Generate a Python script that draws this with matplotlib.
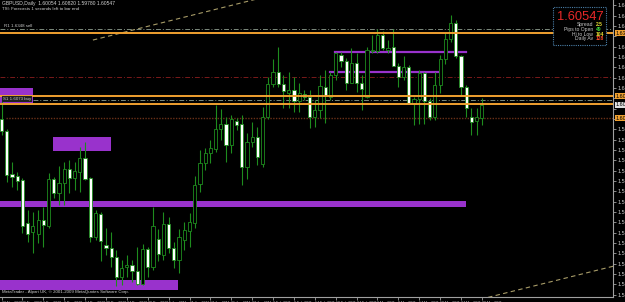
import numpy as np
import matplotlib

matplotlib.use("Agg")
import matplotlib.pyplot as plt
import matplotlib.transforms as mtransforms
from matplotlib.patches import Rectangle

plt.rcParams["font.family"] = ["Liberation Sans", "DejaVu Sans"]

W, H = 625, 302

# GBPUSD daily bars, 22 Nov 2010 .. 30 Mar 2011 (weekdays)
opens = [1.5999, 1.5953, 1.5787, 1.5779, 1.5763, 1.5597, 1.5562, 1.5554, 1.5609, 1.5585,
         1.5767, 1.5713, 1.5752, 1.5806, 1.5771, 1.5794, 1.5849, 1.5771, 1.5543, 1.5632,
         1.5512, 1.5500, 1.5465, 1.5388, 1.5427, 1.5434, 1.5411, 1.5361, 1.5496, 1.5427,
         1.5535, 1.5473, 1.5593, 1.5500, 1.5454, 1.5531, 1.5566, 1.5597, 1.5748, 1.5829,
         1.5868, 1.5883, 1.5961, 1.5980, 1.5899, 1.5992, 1.5980, 1.5814, 1.5910, 1.5930,
         1.5825, 1.6007, 1.6135, 1.6181, 1.6135, 1.6100, 1.6112, 1.6069, 1.6096, 1.6085,
         1.6007, 1.6034, 1.6123, 1.6085, 1.6170, 1.6247, 1.6224, 1.6139, 1.6216, 1.6139,
         1.6085, 1.6263, 1.6263, 1.6325, 1.6267, 1.6278, 1.6205, 1.6162, 1.6201, 1.6061,
         1.6077, 1.6177, 1.6069, 1.6007, 1.6131, 1.6232, 1.6309, 1.6371, 1.6243, 1.6123,
         1.6007, 1.5992, 1.6005]
highs = [1.6073, 1.5961, 1.5833, 1.5794, 1.5771, 1.5647, 1.5640, 1.5647, 1.5659, 1.5790,
         1.5775, 1.5818, 1.5833, 1.5841, 1.5833, 1.5891, 1.5910, 1.5775, 1.5647, 1.5640,
         1.5578, 1.5562, 1.5493, 1.5454, 1.5473, 1.5454, 1.5504, 1.5516, 1.5504, 1.5659,
         1.5574, 1.5640, 1.5620, 1.5523, 1.5574, 1.5601, 1.5636, 1.5779, 1.5880, 1.5887,
         1.5918, 1.6054, 1.6038, 1.6007, 1.6015, 1.6003, 1.6015, 1.5945, 1.5988, 1.5969,
         1.6046, 1.6162, 1.6232, 1.6278, 1.6170, 1.6181, 1.6162, 1.6139, 1.6112, 1.6112,
         1.6073, 1.6170, 1.6189, 1.6181, 1.6259, 1.6259, 1.6236, 1.6274, 1.6255, 1.6170,
         1.6278, 1.6325, 1.6348, 1.6340, 1.6305, 1.6348, 1.6216, 1.6243, 1.6208, 1.6085,
         1.6189, 1.6181, 1.6081, 1.6181, 1.6247, 1.6332, 1.6402, 1.6383, 1.6247, 1.6131,
         1.6042, 1.6042, 1.6082]
lows = [1.5938, 1.5756, 1.5736, 1.5725, 1.5558, 1.5523, 1.5481, 1.5520, 1.5504, 1.5578,
        1.5694, 1.5667, 1.5667, 1.5713, 1.5725, 1.5717, 1.5763, 1.5523, 1.5531, 1.5450,
        1.5473, 1.5427, 1.5353, 1.5357, 1.5388, 1.5369, 1.5357, 1.5357, 1.5388, 1.5415,
        1.5450, 1.5454, 1.5481, 1.5423, 1.5403, 1.5493, 1.5504, 1.5578, 1.5717, 1.5802,
        1.5829, 1.5872, 1.5918, 1.5833, 1.5868, 1.5957, 1.5744, 1.5767, 1.5891, 1.5821,
        1.5814, 1.5999, 1.6123, 1.6123, 1.6042, 1.6042, 1.6027, 1.6027, 1.6073, 1.5965,
        1.5969, 1.6003, 1.5984, 1.6073, 1.6150, 1.6201, 1.6112, 1.6139, 1.6104, 1.6034,
        1.6081, 1.6255, 1.6255, 1.6267, 1.6255, 1.6205, 1.6123, 1.6150, 1.6061, 1.5976,
        1.5980, 1.5980, 1.5996, 1.5996, 1.6100, 1.6212, 1.6297, 1.6236, 1.6092, 1.6007,
        1.5938, 1.5938, 1.5978]
closes = [1.5953, 1.5783, 1.5775, 1.5760, 1.5585, 1.5554, 1.5585, 1.5609, 1.5589, 1.5767,
          1.5713, 1.5752, 1.5806, 1.5771, 1.5798, 1.5849, 1.5767, 1.5543, 1.5636, 1.5527,
          1.5500, 1.5465, 1.5388, 1.5423, 1.5434, 1.5411, 1.5361, 1.5496, 1.5427, 1.5585,
          1.5477, 1.5593, 1.5500, 1.5454, 1.5543, 1.5570, 1.5601, 1.5744, 1.5829, 1.5868,
          1.5887, 1.5961, 1.5980, 1.5899, 1.5999, 1.5976, 1.5814, 1.5910, 1.5930, 1.5852,
          1.6007, 1.6135, 1.6181, 1.6135, 1.6108, 1.6112, 1.6069, 1.6100, 1.6085, 1.6007,
          1.6034, 1.6127, 1.6089, 1.6170, 1.6255, 1.6224, 1.6139, 1.6216, 1.6139, 1.6116,
          1.6267, 1.6267, 1.6325, 1.6274, 1.6274, 1.6205, 1.6162, 1.6201, 1.6061, 1.6077,
          1.6177, 1.6069, 1.6007, 1.6131, 1.6232, 1.6309, 1.6371, 1.6243, 1.6123, 1.6042,
          1.5988, 1.6007, 1.60547]

date_labels = ["22 Nov 2010", "26 Nov 2010", "2 Dec 2010", "8 Dec 2010", "14 Dec 2010",
               "20 Dec 2010", "24 Dec 2010", "30 Dec 2010", "5 Jan 2011", "11 Jan 2011",
               "17 Jan 2011", "21 Jan 2011", "27 Jan 2011", "2 Feb 2011", "8 Feb 2011",
               "14 Feb 2011", "18 Feb 2011", "24 Feb 2011", "2 Mar 2011", "8 Mar 2011",
               "14 Mar 2011", "18 Mar 2011", "24 Mar 2011", "30 Mar 2011"]
price_ticks = [round(1.6440 - 0.004 * k, 4) for k in range(29)]

# drawn objects: levels and zones
orange_levels = [1.6332, 1.6087, 1.6056]
orange_tags = [1.6332, 1.6087, 1.6003]
gray_dashdot = [(-0.3, 1.6348), (6.0, 1.6073)]   # (start bar, price)
red_dashdot = 1.6162
brown_dotted = 1.6003
# (bar from, bar to, price low, price high)
purple_zones = [(-0.3, 6.0, 1.6058, 1.6119),
                (9.9, 21.0, 1.5876, 1.5930),
                (-0.3, 89.0, 1.5659, 1.5682),
                (-0.3, 33.8, 1.5338, 1.5376)]
# (bar from, bar to, price)
purple_lines = [(63.9, 89.0, 1.6259), (62.9, 83.6, 1.6181)]
channel_top = [(17.5, 1.6305), (60.0, 1.6520)]
channel_bottom = [(80.0, 1.5243), (118.0, 1.5434)]

bid = 1.60547
info_labels = ["Spread", "Pips to Open", "Hi to Low", "Daily Av"]
info_values = ["2.5", "49", "104", "128"]
info_colors = ["#e6dc32", "#3ad23a", "#e6dc32", "#ff4a2a"]

GREEN = "#1e8c1e"
ORANGE = "#f0a030"
PURPLE = "#9932cc"

fig = plt.figure(figsize=(W / 100, H / 100), dpi=100, facecolor="black")
ax = fig.add_axes([0, 5 / H, 613 / W, 297 / H], facecolor="black")

x = np.arange(len(opens))
o = np.array(opens)
c = np.array(closes)
ax.vlines(x, lows, highs, color=GREEN, lw=0.8, zorder=3)
bottoms = np.minimum(o, c)
heights = np.maximum(np.abs(c - o), 0.00008)
body_colors = ["white" if cc < oo else "black" for oo, cc in zip(opens, closes)]
ax.bar(x, heights, bottom=bottoms, width=0.6, color=body_colors,
       edgecolor=GREEN, linewidth=0.6, zorder=4)

for x0, x1, p0, p1 in purple_zones:
    ax.add_patch(Rectangle((x0, p0), x1 - x0, p1 - p0, color=PURPLE, lw=0, zorder=2))
for x0, x1, p in purple_lines:
    ax.plot([x0, x1], [p, p], color=PURPLE, lw=1.6, zorder=2)

for p in orange_levels:
    ax.axhline(p, color=ORANGE, lw=1.4, zorder=5)
for x0, p in gray_dashdot:
    ax.plot([x0, 118], [p, p], color="#7c8a7c", lw=0.7, ls=(0, (5, 2, 1, 2)), zorder=1)
ax.axhline(red_dashdot, color="#7a1a1a", lw=0.7, ls=(0, (5, 2, 1, 2)), zorder=1)
ax.plot([0.8, 118], [brown_dotted, brown_dotted], color="#6a3018", lw=1.0,
        ls=(0, (1, 1)), zorder=1)

for line in (channel_top, channel_bottom):
    ax.plot([line[0][0], line[1][0]], [line[0][1], line[1][1]], color="#a89c68",
            lw=0.8, ls=(0, (4, 3)), zorder=1)

ax.set_xlim(-0.29, 117.1)
ax.set_ylim(1.6460 - 297 * 0.000387, 1.6460)

for side in ("top", "left"):
    ax.spines[side].set_visible(False)
for side in ("right", "bottom"):
    ax.spines[side].set_color("#a0a0a0")
    ax.spines[side].set_linewidth(0.8)

# the level tags cover the scale labels they sit on
tags = orange_tags + [bid]
shown = [p if all(abs(p - t) > 0.0016 for t in tags) else None for p in price_ticks]
ax.yaxis.tick_right()
ax.set_yticks(price_ticks)
ax.set_yticklabels([f"{p:.4f}" if p is not None else "" for p in shown])
ax.set_xticks(np.arange(0, len(opens), 4))
ax.set_xticklabels(date_labels, ha="left")
ax.tick_params(colors="#a0a0a0", labelcolor="#c8c8c8", labelsize=4, length=2,
               width=0.6, pad=1)
ax.tick_params(axis="x", labelsize=2.5)

tr = mtransforms.blended_transform_factory(ax.transAxes, ax.transData)
for p in orange_tags:
    ax.text(1.004, p, f"{p:.5f}", transform=tr, fontsize=4, color="black",
            va="center", ha="left", clip_on=False,
            bbox=dict(boxstyle="square,pad=0.1", fc=ORANGE, ec="none"))
ax.text(1.004, bid, f"{bid:.5f}", transform=tr, fontsize=4, color="black",
        va="center", ha="left", clip_on=False,
        bbox=dict(boxstyle="square,pad=0.1", fc="#e0e0e0", ec="none"))

# labels on the left ends of the lines
ax.text(0.5, 1.6352, "R1 1.6348 sell", fontsize=3.2, color="#c8c8c8", va="bottom")
ax.text(0.2, 1.6076, "S1 1.6073 buy", fontsize=3.2, color="#c8c8c8", va="center",
        bbox=dict(boxstyle="square,pad=0.2", fc="#202020", ec="none"), zorder=6)

# header and copyright
fig.text(2 / W, 1 - 1 / H, "GBPUSD,Daily  1.60054 1.60820 1.59780 1.60547",
         fontsize=3.6, color="#d0d0d0", va="top")
fig.text(2 / W, 1 - 7 / H, "TSI: Forecasts 1 seconds left to bar end",
         fontsize=3.2, color="#d0d0d0", va="top")
fig.text(2 / W, 1 - 290 / H, "MetaTrader - Alpari UK, \u00a9 2001-2009 MetaQuotes Software Corp.",
         fontsize=3.2, color="#d0d0d0", va="top")

# info panel
fig.patches.append(Rectangle((553 / W, 1 - 45 / H), 53 / W, 38 / H, transform=fig.transFigure,
                             fc="black", ec="#4a7fa8", lw=0.8, ls=(0, (1, 1)), zorder=10))
fig.text(580 / W, 1 - 16.5 / H, f"{bid:.5f}", fontsize=9.3, color="#e82828",
         ha="center", va="center", zorder=11)
for k, (lab, val, col) in enumerate(zip(info_labels, info_values, info_colors)):
    yy = 1 - (24.5 + 4.8 * k) / H
    fig.text(593 / W, yy, lab, fontsize=3.6, color="#c8c8c8", ha="right", va="center", zorder=11)
    fig.text(596 / W, yy, val, fontsize=3.6, color=col, ha="left", va="center",
             fontweight="bold", zorder=11)

fig.savefig("out.png", dpi=100, facecolor="black")
